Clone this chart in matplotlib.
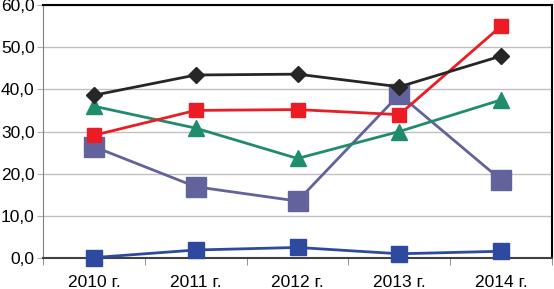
import matplotlib.pyplot as plt
import numpy as np

plt.rcParams['font.family'] = ['Liberation Sans', 'DejaVu Sans']

years = ['2010 г.', '2011 г.', '2012 г.', '2013 г.', '2014 г.']
black = [38.6, 43.4, 43.6, 40.6, 47.9]
red = [29.1, 35.0, 35.2, 34.0, 55.0]
green = [36.0, 30.8, 23.6, 30.0, 37.5]
purple = [26.4, 16.9, 13.5, 38.8, 18.5]
blue = [0.1, 1.9, 2.5, 1.0, 1.6]

x = np.arange(len(years))

fig = plt.figure(figsize=(5.54, 2.89), dpi=100)
ax = fig.add_axes([43/554, 31/289, 509/554, 253/289])

ax.plot(x, purple, color='#62629c', lw=2, marker='s', ms=14, zorder=3)
ax.plot(x, green, color='#1f8c6c', lw=2, marker='^', ms=12, zorder=4)
ax.plot(x, red, color='#ec1c24', lw=2, marker='s', ms=10, zorder=5)
ax.plot(x, black, color='#262626', lw=2, marker='D', ms=8, zorder=6)
ax.plot(x, blue, color='#2e4a9e', lw=2, marker='s', ms=12, zorder=7, clip_on=False)

ax.set_xlim(-0.5, 4.5)
ax.set_ylim(0, 60)
ax.set_yticks(np.arange(0, 61, 10))
ax.set_yticklabels([f'{v:.1f}'.replace('.', ',') for v in range(0, 61, 10)], fontsize=12.5)
ax.set_xticks(x)
ax.set_xticklabels(years, fontsize=12.5)
ax.set_xticks(np.arange(-0.5, 5, 1), minor=True)
ax.tick_params(axis='x', which='major', length=0, pad=12)
ax.tick_params(axis='x', which='minor', length=5, color='#808080')
ax.tick_params(axis='y', length=4, color='#b0b0b0', pad=2)
ax.grid(axis='y', color='#c0c0c0', lw=1)
ax.set_axisbelow(True)

ax.spines['left'].set_color('#808080')
ax.spines['bottom'].set_color('#404040')
ax.spines['bottom'].set_linewidth(1.5)
ax.spines['top'].set_color('black')
ax.spines['right'].set_color('black')
ax.spines['top'].set_linewidth(1.5)
ax.spines['right'].set_linewidth(1.5)

plt.savefig('out.png', dpi=100)
